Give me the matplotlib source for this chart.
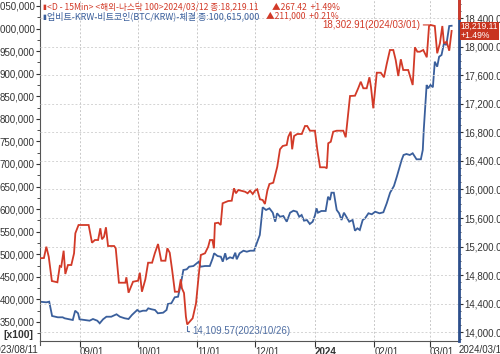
import matplotlib
matplotlib.use('Agg')
import matplotlib.pyplot as plt
import matplotlib.transforms as mtransforms
from matplotlib.ticker import FuncFormatter, MultipleLocator
import pandas as pd

# ---------------- data ----------------
nasdaq_dates = [
    "2023-08-11 00:00", "2023-08-13 06:00", "2023-08-14 12:00", "2023-08-15 18:00", "2023-08-17 09:00",
    "2023-08-20 06:00", "2023-08-21 12:00", "2023-08-22 06:00", "2023-08-23 12:00", "2023-08-24 09:00",
    "2023-08-25 18:00", "2023-08-27 12:00", "2023-08-28 22:00", "2023-08-29 14:00", "2023-08-31 06:00",
    "2023-09-05 12:00", "2023-09-07 06:00", "2023-09-08 18:00", "2023-09-10 10:00", "2023-09-11 14:00",
    "2023-09-12 10:00", "2023-09-13 12:00", "2023-09-14 12:00", "2023-09-15 14:00", "2023-09-18 18:00",
    "2023-09-19 14:00", "2023-09-21 06:00", "2023-09-24 14:00", "2023-09-25 03:00", "2023-09-26 06:00",
    "2023-09-28 14:00", "2023-10-01 05:00", "2023-10-02 03:00", "2023-10-03 05:00", "2023-10-05 00:00",
    "2023-10-06 10:00", "2023-10-08 12:00", "2023-10-09 22:00", "2023-10-11 14:00", "2023-10-13 06:00",
    "2023-10-15 10:00", "2023-10-16 10:00", "2023-10-17 16:00", "2023-10-18 22:00", "2023-10-20 08:00",
    "2023-10-22 08:00", "2023-10-23 10:00", "2023-10-24 00:00", "2023-10-25 02:00", "2023-10-26 02:00",
    "2023-10-26 18:00", "2023-10-29 14:00", "2023-10-31 08:00", "2023-11-01 12:00", "2023-11-02 20:00",
    "2023-11-05 00:00", "2023-11-06 16:00", "2023-11-07 14:00", "2023-11-08 20:00", "2023-11-09 16:00",
    "2023-11-10 04:00", "2023-11-11 22:00", "2023-11-13 04:00", "2023-11-14 04:00", "2023-11-17 02:00",
    "2023-11-18 22:00", "2023-11-20 02:00", "2023-11-21 02:00", "2023-11-22 08:00", "2023-11-25 20:00",
    "2023-11-27 04:00", "2023-11-28 10:00", "2023-11-29 20:00", "2023-12-01 00:00", "2023-12-02 04:00",
    "2023-12-03 14:00", "2023-12-05 00:00", "2023-12-06 04:00", "2023-12-07 10:00", "2023-12-08 12:00",
    "2023-12-10 12:00", "2023-12-12 14:00", "2023-12-14 00:00", "2023-12-15 10:00", "2023-12-17 12:00",
    "2023-12-18 08:00", "2023-12-19 14:00", "2023-12-20 08:00", "2023-12-21 08:00", "2023-12-23 00:00",
    "2023-12-25 08:00", "2023-12-27 00:00", "2023-12-28 04:00", "2023-12-29 14:00", "2024-01-01 04:00",
    "2024-01-02 10:00", "2024-01-03 20:00", "2024-01-06 10:00", "2024-01-07 08:00", "2024-01-08 02:00",
    "2024-01-09 10:00", "2024-01-10 16:00", "2024-01-12 12:00", "2024-01-15 22:00", "2024-01-17 04:00",
    "2024-01-18 12:00", "2024-01-19 10:00", "2024-01-22 00:00", "2024-01-23 16:00", "2024-01-25 00:00",
    "2024-01-26 08:00", "2024-01-28 02:00", "2024-01-29 12:00", "2024-01-30 08:00", "2024-01-31 12:00",
    "2024-02-02 08:00", "2024-02-04 10:00", "2024-02-06 02:00", "2024-02-07 12:00", "2024-02-09 04:00",
    "2024-02-10 22:00", "2024-02-12 04:00", "2024-02-13 12:00", "2024-02-14 20:00", "2024-02-16 02:00",
    "2024-02-18 16:00", "2024-02-21 00:00", "2024-02-22 04:00", "2024-02-23 10:00", "2024-02-24 18:00",
    "2024-02-26 12:00", "2024-02-28 08:00", "2024-02-29 12:00", "2024-03-01 06:00", "2024-03-03 12:00",
    "2024-03-04 18:00", "2024-03-06 04:00", "2024-03-07 10:00", "2024-03-08 06:00", "2024-03-09 16:00",
    "2024-03-11 00:00", "2024-03-12 06:00",
]
nasdaq_values = [
    15036, 15040, 15198, 15058, 14718,
    14700, 14928, 14918, 15142, 14816,
    14942, 14942, 15106, 15386, 15502,
    15502, 15254, 15292, 15292, 15456,
    15302, 15338, 15470, 15208, 15208,
    15176, 14694, 14694, 14770, 14554,
    14708, 14722, 14834, 14568, 14742,
    14974, 14974, 15106, 15236, 15002,
    15002, 15176, 15114, 14872, 14568,
    14568, 14742, 14616, 14550, 14218,
    14109.57, 14196, 14406, 14732, 15082,
    15106, 15198, 15292, 15292, 15176,
    15526, 15534, 15502, 15806, 15838,
    15842, 16016, 15946, 15992, 15968,
    15946, 15982, 15936, 15982, 16002,
    15862, 15852, 15796, 15982, 16076,
    16094, 16318, 16562, 16608, 16622,
    16738, 16808, 16562, 16748, 16776,
    16776, 16888, 16888, 16822, 16822,
    16552, 16310, 16310, 16296, 16646,
    16668, 16808, 16822, 16822, 16730,
    17066, 17308, 17312, 17416, 17508,
    17416, 17416, 17570, 17430, 17136,
    17634, 17634, 17570, 17756, 17952,
    17952, 17812, 17588, 17822, 17672,
    17672, 17462, 17990, 17928, 17928,
    17952, 17850, 18288, 18302.91, 18288,
    17906, 18046, 18288, 18046, 18068,
    17942, 18219.11,
]

btc_dates = [
    "2023-08-11 00:00", "2023-08-14 12:00", "2023-08-16 00:00", "2023-08-17 12:00", "2023-08-20 12:00",
    "2023-08-23 00:00", "2023-08-24 00:00", "2023-08-26 12:00", "2023-08-28 06:00", "2023-08-29 12:00",
    "2023-08-31 00:00", "2023-08-31 18:00", "2023-09-03 12:00", "2023-09-06 00:00", "2023-09-07 18:00",
    "2023-09-10 00:00", "2023-09-11 06:00", "2023-09-13 00:00", "2023-09-14 18:00", "2023-09-17 06:00",
    "2023-09-20 00:00", "2023-09-21 18:00", "2023-09-24 06:00", "2023-09-26 06:00", "2023-09-28 00:00",
    "2023-09-30 18:00", "2023-10-02 00:00", "2023-10-03 18:00", "2023-10-05 12:00", "2023-10-06 12:00",
    "2023-10-08 06:00", "2023-10-10 00:00", "2023-10-11 12:00", "2023-10-14 06:00", "2023-10-16 00:00",
    "2023-10-16 18:00", "2023-10-18 12:00", "2023-10-20 06:00", "2023-10-22 00:00", "2023-10-23 12:00",
    "2023-10-24 18:00", "2023-10-26 12:00", "2023-10-27 18:00", "2023-10-30 00:00", "2023-10-31 18:00",
    "2023-11-01 18:00", "2023-11-02 18:00", "2023-11-05 00:00", "2023-11-07 12:00", "2023-11-09 00:00",
    "2023-11-09 18:00", "2023-11-11 12:00", "2023-11-13 06:00", "2023-11-14 06:00", "2023-11-15 12:00",
    "2023-11-16 06:00", "2023-11-18 00:00", "2023-11-19 12:00", "2023-11-20 18:00", "2023-11-21 12:00",
    "2023-11-23 00:00", "2023-11-25 00:00", "2023-11-26 18:00", "2023-11-28 12:00", "2023-11-30 12:00",
    "2023-12-02 06:00", "2023-12-03 12:00", "2023-12-05 00:00", "2023-12-06 18:00", "2023-12-08 12:00",
    "2023-12-10 06:00", "2023-12-11 12:00", "2023-12-12 12:00", "2023-12-14 00:00", "2023-12-15 18:00",
    "2023-12-17 12:00", "2023-12-19 06:00", "2023-12-21 00:00", "2023-12-22 18:00", "2023-12-24 00:00",
    "2023-12-25 06:00", "2023-12-26 12:00", "2023-12-28 00:00", "2023-12-29 12:00", "2023-12-31 00:00",
    "2024-01-01 06:00", "2024-01-02 00:00", "2024-01-02 18:00", "2024-01-04 12:00", "2024-01-06 18:00",
    "2024-01-08 00:00", "2024-01-09 00:00", "2024-01-09 18:00", "2024-01-11 00:00", "2024-01-12 12:00",
    "2024-01-13 18:00", "2024-01-15 00:00", "2024-01-16 06:00", "2024-01-17 12:00", "2024-01-19 00:00",
    "2024-01-20 18:00", "2024-01-22 00:00", "2024-01-23 06:00", "2024-01-24 12:00", "2024-01-26 00:00",
    "2024-01-27 06:00", "2024-01-29 00:00", "2024-01-30 18:00", "2024-02-01 12:00", "2024-02-03 18:00",
    "2024-02-05 18:00", "2024-02-07 12:00", "2024-02-09 06:00", "2024-02-11 06:00", "2024-02-12 18:00",
    "2024-02-14 00:00", "2024-02-15 06:00", "2024-02-16 06:00", "2024-02-17 18:00", "2024-02-19 12:00",
    "2024-02-21 00:00", "2024-02-23 00:00", "2024-02-25 06:00", "2024-02-26 06:00", "2024-02-26 18:00",
    "2024-02-27 18:00", "2024-02-28 06:00", "2024-02-29 00:00", "2024-03-01 06:00", "2024-03-02 12:00",
    "2024-03-03 12:00", "2024-03-04 18:00", "2024-03-05 18:00", "2024-03-07 00:00", "2024-03-08 06:00",
    "2024-03-09 12:00", "2024-03-11 00:00", "2024-03-12 06:00",
]
btc_values = [
    395000, 393600, 395000, 363300, 360400,
    360400, 358200, 356000, 354400, 375000,
    369300, 356000, 354400, 352900, 356600,
    352900, 347100, 356000, 361700, 361700,
    367100, 361700, 358200, 356600, 365500,
    376600, 372800, 375000, 375000, 380300,
    378100, 376600, 369300, 370600, 376600,
    389900, 391400, 404700, 406000, 435700,
    465200, 466700, 472500, 474000, 480000,
    483600, 472500, 474000, 474000, 491100,
    502200, 496200, 494600, 483600, 502200,
    488900, 493300, 491100, 503500, 488900,
    502200, 507900, 505700, 507900, 507900,
    527900, 542700, 604100, 598100, 601800,
    592100, 572200, 590800, 583200, 584800,
    572200, 592100, 596500, 594300, 583200,
    587000, 574400, 575900, 567100, 572200,
    587000, 601800, 592100, 595900, 595900,
    627500, 620200, 636400, 636400, 598100,
    590800, 575900, 592100, 583200, 572200,
    575900, 552200, 557500, 553800, 575900,
    579700, 590800, 588600, 594300, 590800,
    593000, 612900, 636400, 651200, 671800,
    690500, 708800, 719900, 722100, 719900,
    723700, 710400, 710400, 731000, 775300,
    841700, 875000, 867600, 875000, 869900,
    926600, 915500, 937600, 941400, 967300,
    963600, 1005600, 1006150,
]

x_tick_dates = ["2023-09-01", "2023-10-01", "2023-11-01", "2023-12-01", "2024-01-01", "2024-02-01", "2024-03-01"]
x_tick_labels = ["09/01", "10/01", "11/01", "12/01", "2024", "02/01", "03/01"]
x_start_label = "2023/08/11"
x_end_label = "2024/03/12"

header1_a = "<D - 15Min> <해외-나스닥 100>2024/03/12 종:18,219.11"
header1_b = "▲267.42  +1.49%"
header2_a = "업비트-KRW-비트코인(BTC/KRW)-체결 종:100,615,000"
header2_b = "▲211,000  +0.21%"
max_label = "18,302.91(2024/03/01)"
min_label = "14,109.57(2023/10/26)"
last_label = "18,219.11\n+1.49%"

# ---------------- style ----------------
RED = '#d23a28'
BLUE = '#3a5f9c'
NARROW = ['Liberation Sans Narrow', 'Liberation Sans', 'DejaVu Sans']
CJK = ['Noto Sans CJK KR', 'DejaVu Sans']
plt.rcParams['font.family'] = NARROW

W, H = 500, 354
fig = plt.figure(figsize=(5.0, 3.54), dpi=100)
fig.patch.set_facecolor('white')

left_px, right_px, bottom_px = 39.6, 459.0, 341.0
ax = fig.add_axes([left_px / W, (H - bottom_px) / H, (right_px - left_px) / W, bottom_px / H])
ax2 = ax.twinx()

nd = pd.to_datetime(nasdaq_dates)
bd = pd.to_datetime(btc_dates)

ax.plot(bd, btc_values, color=BLUE, lw=1.3, solid_joinstyle='miter')
ax2.plot(nd, nasdaq_values, color=RED, lw=1.3, solid_joinstyle='miter')

ax.set_xlim(pd.Timestamp("2023-08-11"), pd.Timestamp("2024-03-16 02:00"))
ax.set_ylim(307900, 1063230)
ax2.set_ylim(13878, 18652)

# left axis
ax.yaxis.set_major_locator(MultipleLocator(50000))
ax.yaxis.set_minor_locator(MultipleLocator(25000))
ax.yaxis.set_major_formatter(FuncFormatter(lambda v, p: f"{v:,.0f}"))
ax.tick_params(axis='y', which='major', length=3, width=0.8, pad=0.5, labelsize=7, colors='#333333')
ax.tick_params(axis='y', which='minor', length=2, width=0.6, colors='#333333')

# right axis
ax2.yaxis.set_major_locator(MultipleLocator(400))
ax2.yaxis.set_minor_locator(MultipleLocator(100))
ax2.yaxis.set_major_formatter(FuncFormatter(lambda v, p: f"{v:,.2f}"))
ax2.tick_params(axis='y', which='major', length=3, width=0.8, pad=0.5, labelsize=7, colors='#333333')
ax2.tick_params(axis='y', which='minor', length=1.5, width=0.6, colors='#333333')

# x axis
ax.set_xticks(pd.to_datetime(x_tick_dates))
ax.set_xticklabels(x_tick_labels)
ax.tick_params(axis='x', length=4, width=0.8, pad=0.5, labelsize=7, colors='#333333')
for lab in ax.get_xticklabels():
    lab.set_ha('left')
    if lab.get_text() == '2024':
        lab.set_fontweight('bold')

# grids
ax.grid(axis='x', color='#c8c8c8', lw=0.7, ls=(0, (2, 2)))
ax2.grid(axis='y', color='#d4d4d4', lw=0.7, ls=(0, (2, 2)))
ax.set_axisbelow(True)

for s in ['top']:
    ax.spines[s].set_visible(False)
    ax2.spines[s].set_visible(False)
ax.spines['left'].set_color('#555555')
ax.spines['bottom'].set_color('#555555')
ax.spines['right'].set_visible(False)
ax2.spines['left'].set_visible(False)
ax2.spines['bottom'].set_visible(False)
ax2.spines['right'].set_color('#2d4f8c')
ax2.spines['right'].set_linewidth(2.0)

# red top segment of the right edge
tr2 = mtransforms.blended_transform_factory(ax2.transAxes, ax2.transData)
ax2.plot([1, 1], [18400, 18652], transform=tr2, color=RED, lw=2.0, clip_on=False, zorder=5)

# end labels of x axis
trx = mtransforms.blended_transform_factory(ax.transAxes, ax.transAxes)
ax.text(-0.003, -0.013, x_start_label, transform=trx, ha='right', va='top', fontsize=7, color='#333333', clip_on=False)
ax.text(1.0, -0.013, x_end_label, transform=trx, ha='left', va='top', fontsize=7, color='#333333', clip_on=False)
ax.plot([0, 0], [0, -0.012], transform=trx, color='#555555', lw=0.8, clip_on=False)

# [x100] label
fig.text(3 / W, 1 - 335 / H, "[x100]", ha='left', va='center', fontsize=7.5, fontweight='bold', color='#333333')

# header
fig.text(42 / W, 1 - 7.5 / H, "▮", ha='left', va='center', fontsize=5, color=RED, family=CJK)
fig.text(42 / W, 1 - 16.5 / H, "▮", ha='left', va='center', fontsize=5, color=BLUE, family=CJK)
fig.text(47 / W, 1 - 7 / H, header1_a, ha='left', va='center', fontsize=6.2, color=RED, family=CJK)
fig.text(272 / W, 1 - 7 / H, header1_b, ha='left', va='center', fontsize=6.2, color=RED, family=CJK)
fig.text(47 / W, 1 - 16 / H, header2_a, ha='left', va='center', fontsize=6.5, color=BLUE, family=CJK)
fig.text(266 / W, 1 - 16 / H, header2_b, ha='left', va='center', fontsize=6.2, color=RED, family=CJK)

# annotations
imax = nasdaq_values.index(max(nasdaq_values))
imin = nasdaq_values.index(min(nasdaq_values))
ax2.annotate(max_label, xy=(nd[imax], nasdaq_values[imax]), xytext=(-10, 0), textcoords='offset pixels',
             ha='right', va='center', fontsize=7, color=RED,
             arrowprops=dict(arrowstyle='-', color=RED, lw=0.8, shrinkA=0, shrinkB=1))
ax2.annotate(min_label, xy=(nd[imin], nasdaq_values[imin]), xytext=(5, -7), textcoords='offset pixels',
             ha='left', va='center', fontsize=7, color='#4f6ea3',
             arrowprops=dict(arrowstyle='-', color='#4f6ea3', lw=0.8, shrinkA=0, shrinkB=1,
                             relpos=(0, 0.5), connectionstyle='angle,angleA=0,angleB=90,rad=0'))

# last value box
ax2.text(1.004, nasdaq_values[-1], last_label, transform=tr2, ha='left', va='center', fontsize=6.2,
         color='white', linespacing=0.9, clip_on=False, zorder=6,
         bbox=dict(boxstyle='square,pad=0.08', fc='#c8341f', ec='none'))

fig.savefig('out.png', dpi=100, facecolor='white')
